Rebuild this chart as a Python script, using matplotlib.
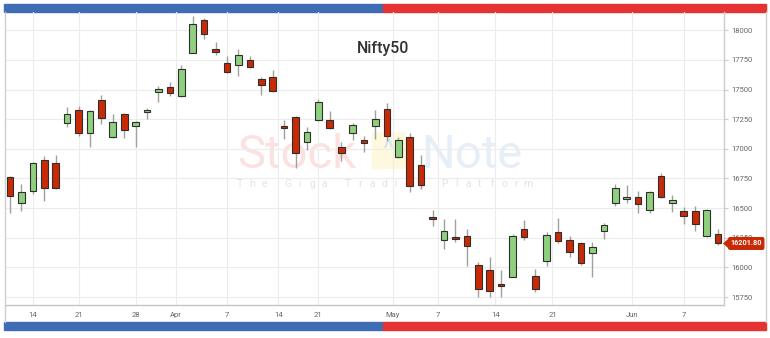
import matplotlib
matplotlib.use("Agg")
import matplotlib.pyplot as plt
import matplotlib.transforms as mtransforms
from matplotlib.patches import Rectangle, Polygon
import numpy as np

plt.rcParams['font.family'] = ['Roboto', 'DejaVu Sans']

# ---------------- data (Nifty50 daily, Mar 10 - Jun 10) ----------------
dates = ["Mar 10", "Mar 11", "Mar 14", "Mar 15", "Mar 16", "Mar 17", "Mar 21", "Mar 22",
         "Mar 23", "Mar 24", "Mar 25", "Mar 28", "Mar 29", "Mar 30", "Mar 31", "Apr 1",
         "Apr 4", "Apr 5", "Apr 6", "Apr 7", "Apr 8", "Apr 11", "Apr 12", "Apr 13",
         "Apr 18", "Apr 19", "Apr 20", "Apr 21", "Apr 22", "Apr 25", "Apr 26", "Apr 27",
         "Apr 28", "Apr 29", "May 2", "May 4", "May 5", "May 6", "May 9", "May 10",
         "May 11", "May 12", "May 13", "May 16", "May 17", "May 18", "May 19", "May 20",
         "May 23", "May 24", "May 25", "May 26", "May 27", "May 30", "May 31", "Jun 1",
         "Jun 2", "Jun 3", "Jun 6", "Jun 7", "Jun 8", "Jun 9", "Jun 10"]

opens = [16763, 16544, 16642, 16908, 16880, 17215, 17329, 17130,
         17411, 17102, 17293, 17189, 17307, 17476, 17520, 17442,
         17812, 18087, 17846, 17728, 17705, 17747, 17588, 17607,
         17190, 17265, 17055, 17242, 17245, 17013, 17133, 17077,
         17194, 17335, 16928, 17102, 16864, 16423, 16235, 16255,
         16269, 16024, 15982, 15856, 15918, 16325, 15927, 16053,
         16302, 16232, 16204, 16120, 16306, 16541, 16578, 16597,
         16487, 16768, 16541, 16474, 16474, 16269, 16283]
highs = [16770, 16704, 16890, 16942, 16950, 17349, 17363, 17329,
         17453, 17293, 17300, 17237, 17343, 17526, 17560, 17705,
         18120, 18101, 17902, 17784, 17846, 17784, 17602, 17663,
         17242, 17279, 17186, 17419, 17321, 17060, 17217, 17110,
         17327, 17383, 17097, 17130, 16948, 16485, 16409, 16409,
         16325, 16045, 16087, 15980, 16283, 16403, 15988, 16297,
         16415, 16269, 16218, 16213, 16375, 16704, 16695, 16647,
         16647, 16796, 16611, 16508, 16516, 16493, 16325]
lows = [16460, 16479, 16620, 16563, 16665, 17181, 17110, 17013,
        17209, 17095, 17090, 17018, 17251, 17396, 17442, 17436,
        17805, 17930, 17790, 17638, 17615, 17680, 17453, 17476,
        17083, 16836, 16992, 17235, 17167, 16900, 17074, 16971,
        17083, 17068, 16925, 16639, 16662, 16353, 16157, 16213,
        16008, 15750, 15750, 15750, 15915, 16227, 15792, 16016,
        16204, 16087, 16022, 15918, 16241, 16516, 16541, 16457,
        16460, 16585, 16464, 16367, 16311, 16255, 16190]
closes = [16603, 16634, 16880, 16670, 16670, 17293, 17130, 17321,
          17257, 17228, 17158, 17228, 17329, 17503, 17470, 17672,
          18056, 17966, 17817, 17644, 17790, 17686, 17540, 17484,
          17175, 16965, 17144, 17397, 17175, 16965, 17203, 17049,
          17251, 17110, 17074, 16689, 16695, 16409, 16311, 16241,
          16179, 15820, 15797, 15843, 16269, 16255, 15820, 16277,
          16221, 16134, 16036, 16176, 16359, 16667, 16592, 16535,
          16634, 16592, 16572, 16432, 16367, 16485, 16201.80]

xtick_pos = [2, 6, 11, 14.5, 19, 23.5, 27, 33.5, 37.5, 42.5, 47.5, 54.5, 59]
xtick_labels = ["14", "21", "28", "Apr", "7", "14", "21", "May", "7", "14", "21", "Jun", "7"]
ytick_vals = [15750, 16000, 16250, 16500, 16750, 17000, 17250, 17500, 17750, 18000]
title = "Nifty50"
last_label = "16201.80"

# ---------------- figure ----------------
W, H = 770, 338
fig = plt.figure(figsize=(W / 100, H / 100), dpi=100)
fig.patch.set_facecolor("white")

def fx(px):
    return px / W

def fy(py):
    return 1 - py / H

# top / bottom decorative bars
fig.patches.append(Rectangle((fx(4), fy(11.5)), fx(383) - fx(4), 7.5 / H,
                             transform=fig.transFigure, color="#3e6db5", zorder=0))
fig.patches.append(Rectangle((fx(383), fy(11.5)), fx(766) - fx(383), 7.5 / H,
                             transform=fig.transFigure, color="#e53232", zorder=0))
fig.patches.append(Rectangle((fx(4), fy(329.5)), fx(383) - fx(4), 7.5 / H,
                             transform=fig.transFigure, color="#3e6db5", zorder=0))
fig.patches.append(Rectangle((fx(383), fy(329.5)), fx(766) - fx(383), 7.5 / H,
                             transform=fig.transFigure, color="#e53232", zorder=0))
# outer frame side lines
fig.lines.append(plt.Line2D([fx(4.5), fx(4.5)], [fy(11.5), fy(322)], transform=fig.transFigure,
                            color="#cfcfcf", lw=1))
fig.lines.append(plt.Line2D([fx(765.5), fx(765.5)], [fy(11.5), fy(322)], transform=fig.transFigure,
                            color="#cfcfcf", lw=1))

ax = fig.add_axes([fx(5), fy(305), fx(724) - fx(5), (305 - 12) / H])
ax.set_facecolor("none")
ax.set_zorder(2)

# watermark (behind the axes)
fig.text(fx(237), fy(168), "Stock", fontsize=34, color="#fbe1e0", ha="left", va="baseline",
         family=["Roboto", "DejaVu Sans"], zorder=-1)
fig.text(fx(421), fy(168), "Note", fontsize=34, color="#e6eef7", ha="left", va="baseline",
         family=["Roboto", "DejaVu Sans"], zorder=-1)
fig.patches.append(Rectangle((fx(372), fy(168)), fx(405) - fx(372), 36 / H,
                             transform=fig.transFigure, color="#fdf8de", zorder=-2))
fig.text(fx(388), fy(158), "^", fontsize=20, color="#d6e3f1", ha="center", va="baseline", zorder=-1)
tag = "The Giga Trading Platform"
for i, ch in enumerate(tag):
    fig.text(fx(240 + i * 12.0), fy(187), ch, fontsize=7.5, color="#e3e3e3", ha="center",
             va="baseline", zorder=-1)

x = np.arange(len(dates))
o = np.array(opens, dtype=float)
h = np.array(highs, dtype=float)
l = np.array(lows, dtype=float)
c = np.array(closes, dtype=float)
up = c >= o
# near-doji coloured
up[54] = True

ax.vlines(x, l, h, color="#a0a0a0", lw=1.0, zorder=2)
bottoms = np.minimum(o, c)
heights = np.maximum(np.abs(c - o), 6)
colors = np.where(up, "#8fd07e", "#c92a06")
ax.bar(x, heights, bottom=bottoms, width=0.58, color=colors, edgecolor="#2e2e2e",
       linewidth=0.8, zorder=3)

ax.set_xlim(-0.44, 62.52)
ax.set_ylim(15683, 18154)

ax.set_xticks(xtick_pos)
ax.set_xticklabels(xtick_labels)
ax.set_yticks(ytick_vals)
ax.set_yticklabels([str(v) for v in ytick_vals])
ax.yaxis.tick_right()
ax.tick_params(axis="y", labelsize=5.5, labelcolor="#666666", length=3, color="#cccccc", pad=2)
ax.tick_params(axis="x", labelsize=5.5, labelcolor="#666666", length=0, pad=5)
ax.grid(True, color="#ececec", lw=0.8, zorder=0)
ax.set_axisbelow(True)

for s in ["top", "left"]:
    ax.spines[s].set_visible(False)
ax.spines["right"].set_color("#cccccc")
ax.spines["bottom"].set_color("#c4c4c4")
ax.spines["right"].set_linewidth(1)
ax.spines["bottom"].set_linewidth(1)

# title
fig.text(fx(383), fy(48), title, fontsize=11.5, color="#333333", ha="center", va="center",
         fontweight="medium", zorder=5)

# last price label
trans = mtransforms.blended_transform_factory(ax.transAxes, ax.transData)
yv = closes[-1]
ax.text(1.009, yv, last_label, transform=trans, fontsize=5.2, color="white", fontweight="bold",
        ha="left", va="center", clip_on=False, zorder=6,
        bbox=dict(boxstyle="round,pad=0.25,rounding_size=0.2", fc="#c92a06", ec="#c92a06"))
ax_w_px = 719
tri = Polygon([[(-1) / ax_w_px + 1, yv], [1 + 5 / ax_w_px, yv + 45], [1 + 5 / ax_w_px, yv - 45]],
              closed=True, transform=trans, fc="#c92a06", ec="none", clip_on=False, zorder=6)
ax.add_patch(tri)

fig.savefig("out.png", dpi=100, facecolor="white")
